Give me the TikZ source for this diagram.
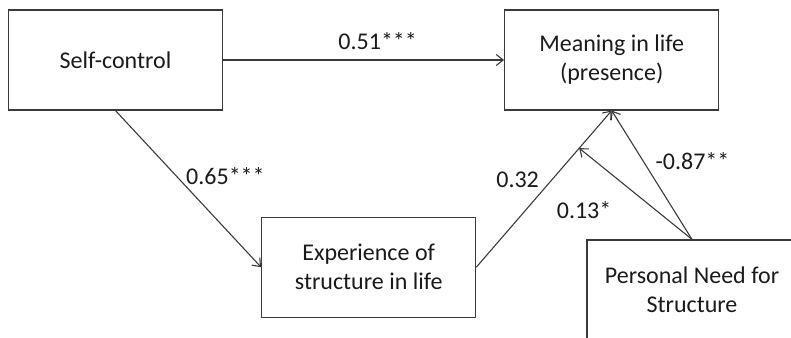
\documentclass[tikz,border=0pt]{standalone}
\usepackage{fontspec}
\setmainfont{Carlito}
\usepackage{tikz}
\usetikzlibrary{positioning,arrows.meta}
\usepackage{xcolor}
\definecolor{linegray}{HTML}{3A3A3A}
\definecolor{textgray}{HTML}{1A1A1A}

\begin{document}
\begin{tikzpicture}[
    x=1pt, y=-1pt,
    >={Straight Barb[length=7pt,width=11pt]},
    font=\fontsize{24}{29}\selectfont,
    text=textgray,
    box/.style={rectangle, draw=linegray, line width=1.2pt, minimum width=214pt, minimum height=100pt, align=center},
    arrow/.style={->, draw=linegray, line width=1.1pt},
    coef/.style={inner sep=0pt}
]

\clip (0,0) rectangle (791,337);

% Nodes
\node[box] (self) at (115.5,60) {Self-control};
\node[box, right=281pt of self] (meaning) {Meaning in life\\(presence)};
\node[box, below right=106pt and 38pt of self] (exper) {Experience of\\structure in life};
\node[box, minimum width=210pt] (need) at (692,290) {Personal Need for\\Structure};

% Arrows
\draw[arrow] (self) -- node[coef, pos=0.55, above=10pt] {0.51***} (meaning);
\draw[arrow] (self.south) -- node[coef, pos=0.42, right=9pt] {0.65***} (exper.west);
\draw[arrow] (exper.east) -- node[coef, pos=0.555, left=12pt] {0.32} coordinate[pos=0.76] (moderate) (meaning.south);
\draw[arrow] (need.north) -- node[coef, pos=0.61, right=12pt] {-0.87**} (meaning.south);
\draw[arrow] (need.north) -- node[coef, pos=0.32, left=44pt] {0.13*} (moderate);

\end{tikzpicture}
\end{document}
